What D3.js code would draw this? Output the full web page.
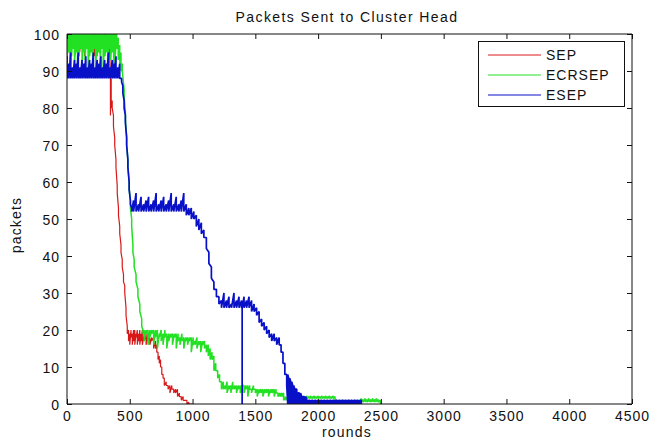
<!DOCTYPE html>
<html><head><meta charset="utf-8">
<script src="https://cdn.jsdelivr.net/npm/d3@7"></script>
<style>
body{margin:0;background:#fff;}
text{font-family:"Liberation Sans",Arial,sans-serif;fill:#111;}
</style></head><body>
<svg id="c" width="649" height="441"></svg>
<script>
// ---- data (rounds, then values visited by the line at that round) ----
const title = "Packets Sent to Cluster Head";
const xLabel = "rounds";
const yLabel = "packets";
const seriesNames = ["SEP", "ECRSEP", "ESEP"];
const seriesColors = ["#d81818", "#22e022", "#0810c8"];
const xTicks = [0, 500, 1000, 1500, 2000, 2500, 3000, 3500, 4000, 4500];
const yTicks = [0, 10, 20, 30, 40, 50, 60, 70, 80, 90, 100];

const sep = [
[0,100,97],[20,99,95],[40,100,96],[60,100,94],[80,99,96],[100,100,95],[120,100,97],[140,99,94],[160,100,96],[180,100,95],[200,99,97],[220,100,94],[240,100,96],[260,99,95],[280,100,97],[300,100,94],[320,99,96],[340,98,95],
[346,88,78],[352,88,80],[360,82,80],[370,78,75],[380,72,70],[390,66,64],[400,59,57],[410,53,51],[420,48,46],[430,43,41],[440,39,37],[450,35,33],[460,32,30],[470,26,24],[480,21,19],
[490,20,17],[500,19,16],[510,20,18],[520,19,16],[530,20,17],[540,20,16],[550,19,18],[560,20,16],[570,19,17],[580,20,16],[590,19,17],[600,20,16],[615,19,17],[630,19,16],[645,19,17],[660,18,16],[675,18,17],[690,18,15],[705,17,15],
[715,16,14],[725,14,12],[735,13,11],[745,12,10],[755,10,8],[765,8,7],[775,7,5],[790,6,5],[805,5,4],[820,5,3],[835,5,4],[850,4,3],[865,4,3],[880,4,2],[895,3,2],[910,2,1],[925,2,1],[940,1,1],[955,1,0],[970,0.5,0],[985,0,0],[1000,0,0]
];

const ecrsep = [
[0,100,93],[12,100,95],[24,100,90],[36,100,94],[48,100,96],[60,100,92],[72,100,95],[84,100,89],[96,100,94],[108,100,96],[120,100,91],[132,100,95],[144,100,93],[156,100,96],[168,100,89],[180,100,94],[192,100,95],[204,100,92],[216,100,96],[228,100,90],[240,100,94],[252,100,95],[264,100,92],[276,100,96],[288,100,89],[300,100,94],[312,100,95],[324,100,91],[336,100,96],[348,100,93],[360,100,95],[372,100,90],[384,100,94],[396,100,96],[408,99,93],[420,97,92],[430,95,90],
[440,92,90],[455,85,83],[465,79,77],[475,72,70],[485,66,64],[495,60,58],[505,55,53],[515,50,48],[525,43,41],[535,39,37],[550,35,33],[565,31,29],[580,27,25],[595,23,21],[605,20,19],
[615,20,17],[630,20,19],[645,20,16],[660,20,18],[675,20,19],[690,20,16],[705,20,18],[720,20,15],[735,19,18],[750,20,17],[765,19,16],[780,20,18],[795,19,15],[810,19,17],[825,19,18],[840,19,16],[855,19,18],[870,19,15],[885,19,17],[900,18,16],[915,19,17],[930,18,15],[945,18,17],[960,18,16],[975,18,17],[990,18,14],[1005,18,16],[1020,17,16],[1035,18,15],[1050,17,16],[1065,17,14],[1080,17,16],[1095,17,15],[1110,16,14],[1125,16,13],[1140,15,12],[1155,14,12],[1170,13,9],[1185,11,9],[1200,9,7],[1215,8,6],[1230,6,4],
[1245,6,4],[1260,5,4],[1275,6,3],[1290,5,4],[1305,5,3],[1320,6,4],[1335,5,4],[1350,5,3],[1365,5,4],[1380,5,3],[1395,4,5],[1410,5,3],[1425,5,4],[1440,5,2],[1455,5,4],[1470,4,3],[1485,5,4],[1500,4,3],[1515,4,2],[1530,4,3],[1545,4,3],[1560,4,2],[1575,4,3],[1590,4,3],[1605,4,2],[1620,4,3],[1635,4,3],[1650,4,2],[1665,4,3],[1680,3,2],[1695,3,2],[1710,3,2],[1725,3,1],[1740,2,1],[1760,2,1],[1800,2,1],[1850,2,1],
[1865,2,1.5],[1880,2,1],[1895,2,1.5],[1910,2.2,1.5],[1925,2,1.5],[1940,2.2,1.5],[1955,2,1.5],[1970,2.2,1.5],[1985,2,1.5],[2000,2.2,1.5],[2015,2,1.5],[2030,2.2,1.5],[2045,2,1.5],[2060,2.2,1.5],[2075,2,1.5],[2090,2.2,1.5],[2105,2,1.5],[2120,2.2,1.5],[2135,2,1],
[2150,1,0.5],[2200,1,0.5],[2250,1,0.5],[2300,1,0.5],[2330,1,0.5],[2345,1.5,0.5],[2360,1.2,0.5],[2375,1.5,0.6],[2390,1.2,0.5],[2405,1.5,0.6],[2420,1.2,0.5],[2435,1.5,0.6],[2450,1.2,0.5],[2465,1.5,0.6],[2480,1.2,0.5],[2495,1,0.5],[2500,0,0]
];

const esep = [
[0,94,88],[15,92,88],[30,95,88],[45,91,88],[60,93,88],[75,92,88],[90,95,88],[105,91,88],[120,93,88],[135,92,88],[150,94,88],[165,91,88],[180,93,88],[195,92,88],[210,95,88],[225,91,88],[240,93,88],[255,92,88],[270,94,88],[285,91,88],[300,93,88],[315,92,88],[330,95,88],[345,91,88],[360,93,88],[375,92,88],[390,94,88],[405,91,88],[420,92,88],[435,88,87],
[445,86,84],[455,82,80],[465,78,76],[475,72,70],[485,66,64],[495,60,58],[505,55,54],[515,53,52],
[530,55,52],[550,57,52],[570,54,52],[590,56,52],[610,54,52],[630,55,52],[650,56,52],[670,54,52],[690,55,52],[710,57,52],[730,54,52],[750,55,52],[770,56,52],[790,54,52],[810,55,52],[830,57,52],[850,54,52],[870,56,52],[890,54,52],[910,55,52],[930,57,52],[950,54,51],[970,53,51],[990,53,50],[1010,52,50],
[1030,51,48],[1050,50,47],[1070,49,46],[1090,47,45],[1110,45,42],[1130,41,38],[1150,37,34],[1170,33,31],[1190,31,29],[1210,29,27],
[1230,28,26],[1250,30,26],[1270,28,26],[1290,29,26],[1310,27,26],[1330,30,26],[1350,28,26],[1370,29,26],[1390,28,26],[1395,26,0],[1395,0,26],[1410,29,26],[1430,28,26],[1450,29,26],[1470,28,25],
[1490,27,25],[1510,26,24],[1530,25,22],[1550,23,21],[1570,22,20],[1590,21,19],[1610,20,18],[1630,19,17],[1650,19,17],[1670,18,16],[1690,18,16],[1705,16,14],[1720,14,11],[1735,11,8],[1750,8,5],
[1758,0,8],[1766,7,0],[1774,0,7],[1782,6,0],[1790,0,6],[1798,5,0],[1806,0,5],[1814,4,0],[1822,0,4],[1830,4,0],[1840,0,3],[1850,3,0],[1860,0,3],[1870,2,0],[1880,0,2],[1890,2,0],[1900,0,2],
[1912,1,0],[1924,0,1],[1936,1,0],[1948,0,1],[1960,1,0],[1972,0,1],[1984,1,0],[1996,0,1],[2008,1,0],[2020,0,1],[2032,1,0],[2044,0,1],[2056,1,0],[2068,0,1],[2080,1,0],[2092,0,1],[2104,1,0],[2116,0,1],[2128,1,0],[2140,0,1],[2152,1,0],[2164,0,1],[2176,1,0],[2188,0,1],[2200,1,0],[2212,0,1],[2224,1,0],[2236,0,1],[2248,1,0],[2260,0,1],[2272,1,0],[2284,0,1],[2296,1,0],[2308,0,1],[2320,1,0],[2332,0,1],[2344,1,0],[2350,0,0]
];

// ---- layout ----
const m = {l:67, r:632, t:34, b:404};
const svg = d3.select("#c");
const x = d3.scaleLinear().domain([0, 4500]).range([m.l, m.r]);
const y = d3.scaleLinear().domain([0, 100]).range([m.b, m.t]);
const strokeW = [1.2, 1.5, 1.7];

const flat = s => { const p = []; s.forEach(d => { p.push([d[0], d[1]]); p.push([d[0], d[2]]); }); return p; };
const line = d3.line().x(d => x(d[0])).y(d => y(d[1]));

svg.append("clipPath").attr("id","pc").append("rect")
  .attr("x", m.l).attr("y", m.t - 1).attr("width", m.r - m.l).attr("height", m.b - m.t + 1);

const g = svg.append("g").attr("clip-path","url(#pc)");
[sep, ecrsep, esep].forEach((s, i) => {
  g.append("path").attr("d", line(flat(s))).attr("fill","none")
    .attr("stroke", seriesColors[i]).attr("stroke-width", strokeW[i]).attr("stroke-linejoin","bevel");
});

// axes (MATLAB-style box with inward ticks)
const fs = "14px";
const xb = svg.append("g").attr("transform", `translate(0,${m.b})`)
  .call(d3.axisBottom(x).tickValues(xTicks).tickSize(-5).tickPadding(10).tickFormat(d3.format("d")));
const xt = svg.append("g").attr("transform", `translate(0,${m.t})`)
  .call(d3.axisTop(x).tickValues(xTicks).tickSize(-5).tickFormat(""));
const yl = svg.append("g").attr("transform", `translate(${m.l},0)`)
  .call(d3.axisLeft(y).tickValues(yTicks).tickSize(-5).tickPadding(10).tickFormat(d3.format("d")));
const yr = svg.append("g").attr("transform", `translate(${m.r},0)`)
  .call(d3.axisRight(y).tickValues(yTicks).tickSize(-5).tickFormat(""));
[xb, xt, yl, yr].forEach(a => {
  a.select(".domain").attr("stroke","#111").attr("stroke-width",1);
  a.selectAll(".tick line").attr("stroke","#111");
  a.selectAll("text").style("font-size", fs).style("letter-spacing","1px")
    .attr("font-family", null).attr("fill","#111");
});
xb.selectAll(".tick text").attr("dy","0.71em").attr("y", 7);
yl.selectAll(".tick text").attr("x", -7).attr("dy","0.36em");
[xb, xt].forEach(a => a.select(".domain").attr("d", `M${m.l},0H${m.r}`));
[yl, yr].forEach(a => a.select(".domain").attr("d", `M0,${m.b}V${m.t}`));

svg.append("text").attr("x", 347).attr("y", 22).attr("text-anchor","middle")
  .style("font-size", fs).style("letter-spacing","1.4px").text(title);
svg.append("text").attr("x", 347).attr("y", 437).attr("text-anchor","middle")
  .style("font-size", fs).style("letter-spacing","1.2px").text(xLabel);
svg.append("text").attr("transform","translate(21,225) rotate(-90)").attr("text-anchor","middle")
  .style("font-size", fs).style("letter-spacing","1.2px").text(yLabel);

// legend
const lg = svg.append("g");
lg.append("rect").attr("x", 478.5).attr("y", 41.5).attr("width", 146).attr("height", 65)
  .attr("fill","#fff").attr("stroke","#111").attr("stroke-width",1);
seriesNames.forEach((n, i) => {
  const yy = 55 + i * 20;
  lg.append("line").attr("x1", 488).attr("x2", 541).attr("y1", yy).attr("y2", yy)
    .attr("stroke", seriesColors[i]).attr("stroke-width", 1);
  lg.append("text").attr("x", 546).attr("y", yy + 5).style("font-size", fs)
    .style("letter-spacing","1px").text(n);
});
</script>
</body></html>
